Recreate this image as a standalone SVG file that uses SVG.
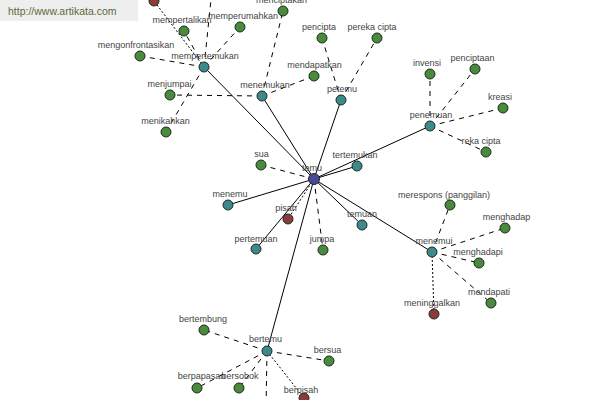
<svg xmlns="http://www.w3.org/2000/svg" width="600" height="400" viewBox="0 0 600 400">
<style>
.e{stroke:#000;stroke-width:1;fill:none}
.d{stroke:#000;stroke-width:1;fill:none;stroke-dasharray:5,5}
.o{stroke:#000;stroke-width:1;fill:none;stroke-dasharray:2,2}
.n circle{stroke:#1e2a1e;stroke-width:1}
.g circle{fill:#4a8a3c}
.t circle{fill:#3c8a8c}
.r circle{fill:#8c3a3c}
.c circle{fill:#48489a}
text{font-family:"Liberation Sans",Arial,sans-serif;font-size:9px;fill:#444;text-anchor:middle}
</style>
<rect x="0" y="0" width="600" height="400" fill="#fff"/>
<g id="watermark">
<rect x="0" y="0" width="138" height="21" fill="#eeeeee"/>
<text x="8" y="15" style="font-size:10.5px;fill:#5a6b35;text-anchor:start">http://www.artikata.com</text>
</g>
<g id="connectors">
<line class="e" x1="314" y1="179" x2="204" y2="67"/>
<line class="e" x1="314" y1="179" x2="262" y2="96"/>
<line class="e" x1="314" y1="179" x2="341" y2="100"/>
<line class="e" x1="314" y1="179" x2="430" y2="126"/>
<line class="e" x1="314" y1="179" x2="357" y2="166"/>
<line class="e" x1="314" y1="179" x2="228" y2="205"/>
<line class="e" x1="314" y1="179" x2="362" y2="225"/>
<line class="e" x1="314" y1="179" x2="256" y2="249"/>
<line class="e" x1="314" y1="179" x2="432" y2="252"/>
<line class="e" x1="314" y1="179" x2="267" y2="351"/>
<line class="o" x1="314" y1="179" x2="288" y2="219"/>
<line class="d" x1="314" y1="179" x2="261" y2="165"/>
<line class="d" x1="314" y1="179" x2="323" y2="250"/>
<line class="o" x1="204" y1="67" x2="154" y2="1"/>
<line class="d" x1="204" y1="67" x2="212" y2="-10"/>
<line class="d" x1="204" y1="67" x2="184" y2="31"/>
<line class="d" x1="204" y1="67" x2="240" y2="27"/>
<line class="d" x1="204" y1="67" x2="140" y2="56"/>
<line class="d" x1="204" y1="67" x2="166" y2="132"/>
<line class="d" x1="262" y1="96" x2="170" y2="95"/>
<line class="d" x1="262" y1="96" x2="283" y2="11"/>
<line class="d" x1="262" y1="96" x2="314" y2="76"/>
<line class="d" x1="341" y1="100" x2="322" y2="38"/>
<line class="d" x1="341" y1="100" x2="377" y2="38"/>
<line class="d" x1="430" y1="126" x2="430" y2="74"/>
<line class="d" x1="430" y1="126" x2="475" y2="69"/>
<line class="d" x1="430" y1="126" x2="503" y2="108"/>
<line class="d" x1="430" y1="126" x2="486" y2="152"/>
<line class="d" x1="432" y1="252" x2="450" y2="205"/>
<line class="d" x1="432" y1="252" x2="505" y2="228"/>
<line class="d" x1="432" y1="252" x2="479" y2="263"/>
<line class="d" x1="432" y1="252" x2="491" y2="303"/>
<line class="o" x1="432" y1="252" x2="434" y2="314"/>
<line class="d" x1="267" y1="351" x2="204" y2="330"/>
<line class="d" x1="267" y1="351" x2="329" y2="361"/>
<line class="d" x1="267" y1="351" x2="197" y2="388"/>
<line class="d" x1="267" y1="351" x2="239" y2="388"/>
<line class="d" x1="267" y1="351" x2="266" y2="410"/>
<line class="o" x1="267" y1="351" x2="304" y2="398"/>
</g>
<g id="n-temu" class="n c"><circle cx="314" cy="179" r="5.5"/><text x="312" y="171">temu</text></g>
<g id="n-mempertemukan" class="n t"><circle cx="204" cy="67" r="5"/><text x="205" y="59">mempertemukan</text></g>
<g id="n-menemukan" class="n t"><circle cx="262" cy="96" r="5"/><text x="265" y="88">menemukan</text></g>
<g id="n-petemu" class="n t"><circle cx="341" cy="100" r="5"/><text x="342" y="92">petemu</text></g>
<g id="n-penemuan" class="n t"><circle cx="430" cy="126" r="5"/><text x="431" y="118">penemuan</text></g>
<g id="n-tertemukan" class="n t"><circle cx="357" cy="166" r="5"/><text x="355" y="158">tertemukan</text></g>
<g id="n-menemu" class="n t"><circle cx="228" cy="205" r="5"/><text x="230" y="197">menemu</text></g>
<g id="n-temuan" class="n t"><circle cx="362" cy="225" r="5"/><text x="362" y="217">temuan</text></g>
<g id="n-pertemuan" class="n t"><circle cx="256" cy="249" r="5"/><text x="256" y="241.5">pertemuan</text></g>
<g id="n-menemui" class="n t"><circle cx="432" cy="252" r="5"/><text x="434" y="244">menemui</text></g>
<g id="n-bertemu" class="n t"><circle cx="267" cy="351" r="5"/><text x="265.5" y="342">bertemu</text></g>
<g id="n-pisah" class="n r"><circle cx="288" cy="219" r="5"/><text x="286" y="211">pisah</text></g>
<g id="n-meninggalkan" class="n r"><circle cx="434" cy="314" r="5"/><text x="432" y="306">meninggalkan</text></g>
<g id="n-berpisah" class="n r"><circle cx="304" cy="398" r="5"/><text x="301" y="393">berpisah</text></g>
<g id="n-top" class="n r"><circle cx="154" cy="1" r="5"/></g>
<g id="n-mempertalikan" class="n g"><circle cx="184" cy="31" r="5"/><text x="182" y="23">mempertalikan</text></g>
<g id="n-memperumahkan" class="n g"><circle cx="240" cy="27" r="5"/><text x="243" y="18.5">memperumahkan</text></g>
<g id="n-menciptakan" class="n g"><circle cx="283" cy="11" r="5"/><text x="281.5" y="3">menciptakan</text></g>
<g id="n-mengonfrontasikan" class="n g"><circle cx="140" cy="56" r="5"/><text x="136" y="48">mengonfrontasikan</text></g>
<g id="n-menjumpai" class="n g"><circle cx="170" cy="95" r="5"/><text x="169.5" y="87">menjumpai</text></g>
<g id="n-menikahkan" class="n g"><circle cx="166" cy="132" r="5"/><text x="165.5" y="123.5">menikahkan</text></g>
<g id="n-pencipta" class="n g"><circle cx="322" cy="38" r="5"/><text x="319" y="30">pencipta</text></g>
<g id="n-pereka-cipta" class="n g"><circle cx="377" cy="38" r="5"/><text x="372" y="30">pereka cipta</text></g>
<g id="n-mendapatkan" class="n g"><circle cx="314" cy="76" r="5"/><text x="314.5" y="68">mendapatkan</text></g>
<g id="n-invensi" class="n g"><circle cx="430" cy="74" r="5"/><text x="427" y="66">invensi</text></g>
<g id="n-penciptaan" class="n g"><circle cx="475" cy="69" r="5"/><text x="472.5" y="61">penciptaan</text></g>
<g id="n-kreasi" class="n g"><circle cx="503" cy="108" r="5"/><text x="500" y="99.5">kreasi</text></g>
<g id="n-reka-cipta" class="n g"><circle cx="486" cy="152" r="5"/><text x="481" y="143.5">reka cipta</text></g>
<g id="n-sua" class="n g"><circle cx="261" cy="165" r="5"/><text x="261.5" y="157">sua</text></g>
<g id="n-jumpa" class="n g"><circle cx="323" cy="250" r="5"/><text x="322" y="242">jumpa</text></g>
<g id="n-merespons" class="n g"><circle cx="450" cy="205" r="5"/><text x="444" y="198">merespons (panggilan)</text></g>
<g id="n-menghadap" class="n g"><circle cx="505" cy="228" r="5"/><text x="506.5" y="220">menghadap</text></g>
<g id="n-menghadapi" class="n g"><circle cx="479" cy="263" r="5"/><text x="478" y="255">menghadapi</text></g>
<g id="n-mendapati" class="n g"><circle cx="491" cy="303" r="5"/><text x="489" y="294.5">mendapati</text></g>
<g id="n-bertembung" class="n g"><circle cx="204" cy="330" r="5"/><text x="203" y="322">bertembung</text></g>
<g id="n-bersua" class="n g"><circle cx="329" cy="361" r="5"/><text x="327.5" y="353">bersua</text></g>
<g id="n-berpapasan" class="n g"><circle cx="197" cy="388" r="5"/><text x="201.5" y="379">berpapasan</text></g>
<g id="n-bersobok" class="n g"><circle cx="239" cy="388" r="5"/><text x="240" y="379">bersobok</text></g>
</svg>
